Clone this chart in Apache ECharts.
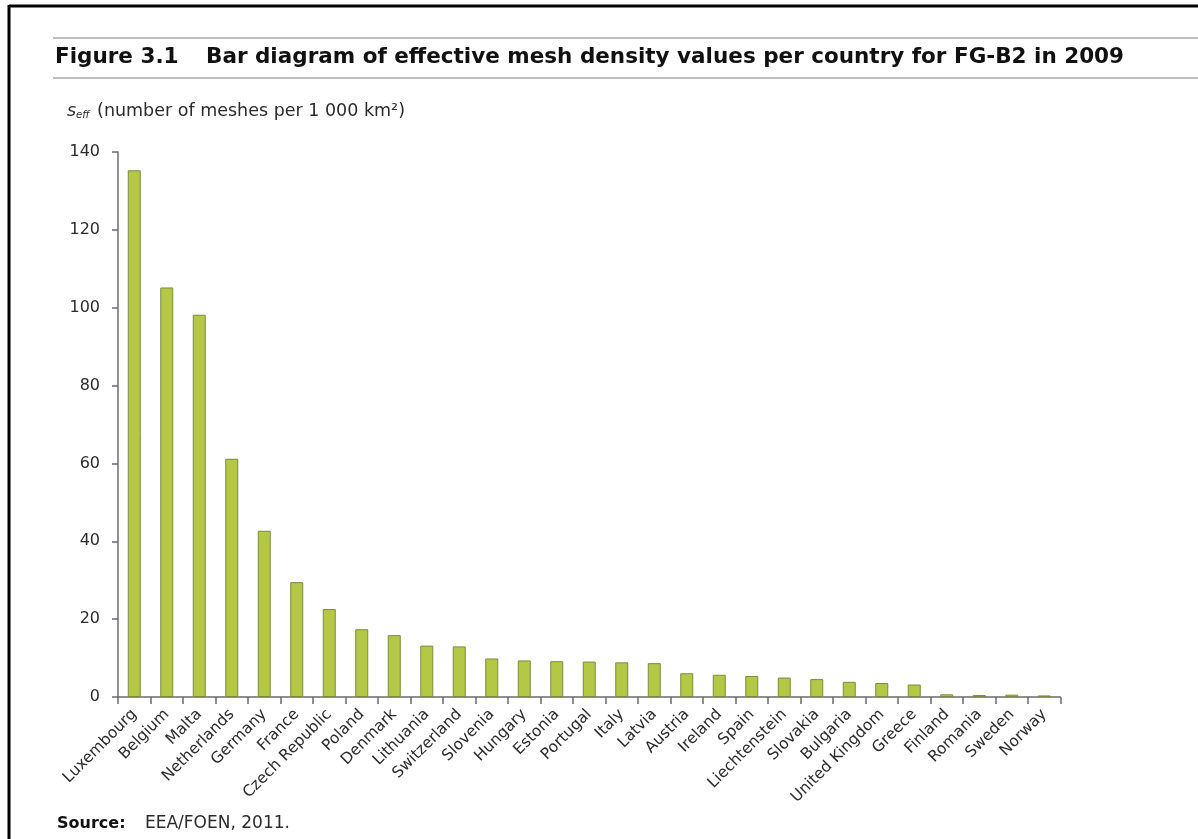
<!DOCTYPE html>
<html>
<head>
<meta charset="utf-8">
<script src="https://cdn.jsdelivr.net/npm/echarts@6/dist/echarts.min.js"></script>
<style>
  html, body { margin: 0; padding: 0; background: #fff; }
  #chart { width: 1198px; height: 839px; }
</style>
</head>
<body>
<div id="chart"></div>
<script>
// data
const countries = ['Luxembourg', 'Belgium', 'Malta', 'Netherlands', 'Germany', 'France',
  'Czech Republic', 'Poland', 'Denmark', 'Lithuania', 'Switzerland', 'Slovenia', 'Hungary',
  'Estonia', 'Portugal', 'Italy', 'Latvia', 'Austria', 'Ireland', 'Spain', 'Liechtenstein',
  'Slovakia', 'Bulgaria', 'United Kingdom', 'Greece', 'Finland', 'Romania', 'Sweden', 'Norway']
const seffValues = [135.3, 105.2, 98.2, 61.2, 42.7, 29.5, 22.6, 17.4, 15.9, 13.2, 13.0, 9.9, 9.4,
  9.2, 9.1, 8.9, 8.7, 6.1, 5.7, 5.4, 5.0, 4.6, 3.9, 3.6, 3.2, 0.7, 0.5, 0.6, 0.4]
const yTicks = { min: 0, max: 140, interval: 20 }

const font = '"DejaVu Sans"'
const textColor = '#2b2b2b'
const axisColor = '#6b6b6b'

const chart = echarts.init(document.getElementById('chart'))

chart.setOption({
  animation: false,
  backgroundColor: '#fff',
  grid: { left: 118, right: 137.5, top: 152, bottom: 142 },
  xAxis: {
    type: 'category',
    data: countries,
    axisLine: { lineStyle: { color: axisColor, width: 1.5 } },
    axisTick: { show: true, length: 7, lineStyle: { color: axisColor, width: 1.5 } },
    axisLabel: {
      rotate: 45, interval: 0, margin: 15,
      fontFamily: font, fontSize: 15.5, color: textColor
    }
  },
  yAxis: {
    type: 'value',
    min: yTicks.min, max: yTicks.max, interval: yTicks.interval,
    splitLine: { show: false },
    axisLine: { show: true, lineStyle: { color: axisColor, width: 1.5 } },
    axisTick: { show: true, length: 6, lineStyle: { color: axisColor, width: 1.5 } },
    axisLabel: { margin: 18, fontFamily: font, fontSize: 16, color: textColor }
  },
  series: [{
    type: 'bar',
    data: seffValues,
    barWidth: 13,
    itemStyle: { color: '#b5c845', borderColor: '#7b8a43', borderWidth: 1 }
  }],
  graphic: [
    // outer frame (left and top)
    { type: 'line', shape: { x1: 9, y1: 6, x2: 1198, y2: 6 }, style: { stroke: '#000', lineWidth: 3 } },
    { type: 'line', shape: { x1: 9, y1: 5, x2: 9, y2: 839 }, style: { stroke: '#000', lineWidth: 3 } },
    // title rules
    { type: 'line', shape: { x1: 53, y1: 38, x2: 1198, y2: 38 }, style: { stroke: '#a8a8a8', lineWidth: 1.5 } },
    { type: 'line', shape: { x1: 53, y1: 78, x2: 1198, y2: 78 }, style: { stroke: '#a8a8a8', lineWidth: 1.5 } },
    {
      type: 'text', left: 55, top: 46,
      style: {
        text: '{a|Figure 3.1}{b|Bar diagram of effective mesh density values per country for FG-B2 in 2009}',
        rich: {
          a: { fontFamily: font, fontWeight: 'bold', fontSize: 21.5, fill: '#111', width: 151 },
          b: { fontFamily: font, fontWeight: 'bold', fontSize: 21.5, fill: '#111' }
        }
      }
    },
    {
      type: 'text', left: 67, top: 102,
      style: {
        text: '{s|s}{e|eff} (number of meshes per 1 000 km²)',
        fontFamily: font, fontSize: 17.5, fill: textColor,
        rich: {
          s: { fontFamily: font, fontStyle: 'italic', fontSize: 17.5, fill: textColor },
          e: { fontFamily: font, fontStyle: 'italic', fontSize: 10, fill: textColor, padding: [9, 2, 0, 0] }
        }
      }
    },
    {
      type: 'text', left: 57, top: 815,
      style: {
        text: '{a|Source:}{b|EEA/FOEN, 2011.}',
        rich: {
          a: { fontFamily: font, fontWeight: 'bold', fontSize: 16, fill: '#111', width: 88 },
          b: { fontFamily: font, fontSize: 17, fill: textColor }
        }
      }
    }
  ]
})
</script>
</body>
</html>
